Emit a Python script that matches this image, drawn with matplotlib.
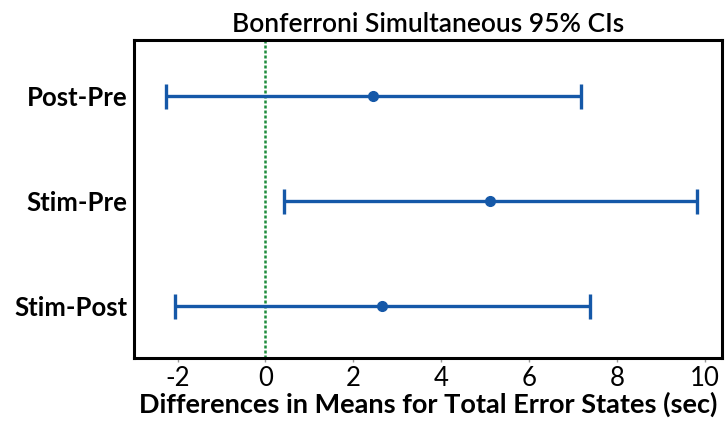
import matplotlib.pyplot as plt
import numpy as np

# Bonferroni simultaneous 95% confidence intervals for pairwise differences
comparisons = ["Stim-Post", "Stim-Pre", "Post-Pre"]
diff_means = [2.66, 5.12, 2.45]
lower = [-2.06, 0.42, -2.26]
upper = [7.38, 9.83, 7.18]

plt.rcParams['font.family'] = ['Lato', 'DejaVu Sans']
plt.rcParams['axes.unicode_minus'] = False

fig = plt.figure(figsize=(7.25, 4.21), dpi=100)
ax = fig.add_axes([134 / 725, 63 / 421, 588 / 725, 318 / 421])

ypos = np.arange(1, len(comparisons) + 1)
means = np.array(diff_means)
err = [means - np.array(lower), np.array(upper) - means]

blue = '#1558a8'
ax.errorbar(means, ypos, xerr=err, fmt='o', color=blue, ecolor=blue,
            elinewidth=2.4, capsize=9, capthick=2.4, markersize=7, zorder=3)

# reference line at zero difference
ax.axvline(0, color='#1e8c3c', linestyle=(0, (1.2, 0.8)), linewidth=1.8, zorder=2)

ax.set_xlim(-2.99, 10.39)
ax.set_ylim(0.505, 3.533)
ax.set_xticks([-2, 0, 2, 4, 6, 8, 10])
ax.set_yticks(ypos)
ax.set_yticklabels(comparisons, fontsize=18.5, fontweight='bold')
ax.tick_params(axis='x', labelsize=18.5, length=3, width=1, color='#999999', pad=3)
ax.tick_params(axis='y', length=0, pad=5)

for s in ax.spines.values():
    s.set_linewidth(2.2)

ax.set_xlabel("Differences in Means for Total Error States (sec)", fontsize=19.5,
              fontweight='bold', labelpad=0)
ax.set_title("Bonferroni Simultaneous 95% CIs", fontsize=19, fontweight='semibold', pad=6)

fig.savefig("out.png", dpi=100)
